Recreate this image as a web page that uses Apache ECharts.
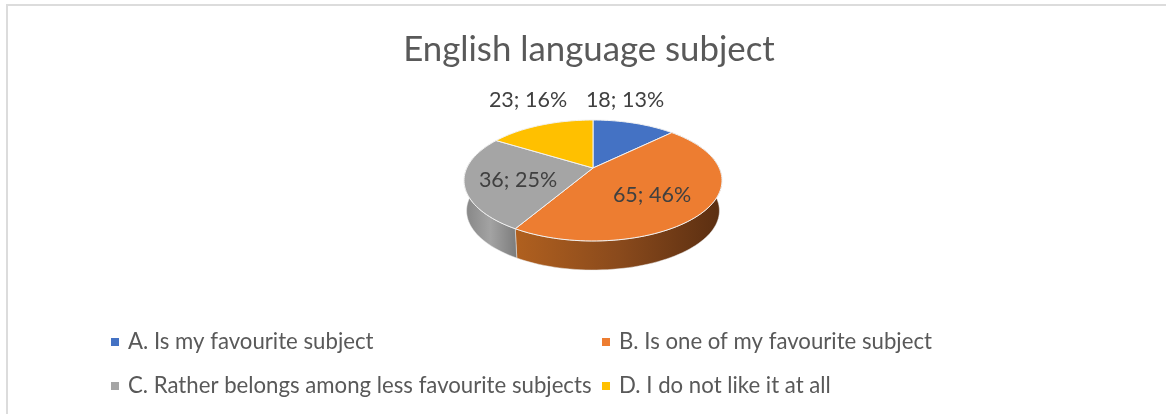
<!DOCTYPE html>
<html><head><meta charset="utf-8">
<style>html,body{margin:0;padding:0;background:#fff}#c{width:1166px;height:414px}</style>
<script src="https://cdn.jsdelivr.net/npm/echarts@6/dist/echarts.min.js"></script>
</head><body><div id="c"></div>
<script>
const categories = ['A. Is my favourite subject','B. Is one of my favourite subject','C. Rather belongs among less favourite subjects','D. I do not like it at all'];
const values = [18,65,36,23];
const colors = ['#4472C4','#ED7D31','#A5A5A5','#FFC000'];
const sideStops = [null,['#B0601F','#8A4A1C','#5A2E11'],['#858585','#A3A3A3','#7C7C7C'],null];
const labelAnchors = [[625,100],[652,195],[518,180],[528,100]];
const titleText = 'English language subject';
const FONT = 'Lato, "Open Sans", sans-serif';
const TEXT = '#595959';

const total = values.reduce((a,b)=>a+b,0);
// perspective disc: apex, radii and perspective factor
const P = {cx:593, cy:168, A:126.2, B:57.9, p:0.2066, depthScale:0.98, depthOffset:30.5};
function rim(deg, bottom){
  const t = deg*Math.PI/180, u=Math.sin(t), v=Math.cos(t), w=1+P.p*v;
  let X=P.A*u/w, Y=-P.B*v/w;
  if(bottom){X*=P.depthScale;Y=Y*P.depthScale+P.depthOffset;}
  return [P.cx+X,P.cy+Y];
}
function arc(a0,a1,bottom){
  const n=Math.max(2,Math.ceil((a1-a0)/2)),o=[];
  for(let i=0;i<=n;i++)o.push(rim(a0+(a1-a0)*i/n,bottom));
  return o;
}
let cum=0;
const ranges=values.map(v=>{const s=cum;cum+=v;return [s/total*360,cum/total*360];});

const series = categories.map((name,i)=>({
  type:'custom',name,coordinateSystem:'none',
  itemStyle:{color:colors[i]},
  silent:true,animation:false,
  data:[values[i]],
  renderItem(){
    const [a0,a1]=ranges[i];
    const top=arc(a0,a1,false);
    const children=[];
    if(sideStops[i]){
      const pts=top.concat(arc(a0,a1,true).reverse());
      const xs=pts.filter(p=>p[1]>P.cy).map(p=>p[0]);
      const st=sideStops[i];
      children.push({type:'polygon',z2:1,shape:{points:pts},
        style:{stroke:'#e8e8e8',lineWidth:0.5,fill:{type:'linear',global:true,
          x:Math.min(...xs),y:0,x2:Math.max(...xs),y2:0,
          colorStops:[{offset:0,color:st[0]},{offset:.5,color:st[1]},{offset:1,color:st[2]}]}}});
    }
    children.push({type:'polygon',z2:2,shape:{points:[[P.cx,P.cy]].concat(top)},
      style:{fill:colors[i],stroke:'#f2f2f2',lineWidth:1,lineJoin:'round'}});
    children.push({type:'text',z2:3,x:labelAnchors[i][0],y:labelAnchors[i][1],
      style:{text:values[i]+'; '+Math.round(values[i]/total*100)+'%',font:'21.5px '+FONT,fill:'#404040',align:'center',verticalAlign:'middle'}});
    return {type:'group',children};
  }
}));

const legendBase={orient:'vertical',icon:'rect',itemWidth:8,itemHeight:8,itemGap:22,selectedMode:false,
  textStyle:{fontFamily:FONT,fontSize:22.2,color:TEXT,padding:[0,0,0,4]}};
const chart=echarts.init(document.getElementById('c'),null,{renderer:'canvas'});
chart.setOption({
  animation:false,
  backgroundColor:'#fff',
  color:colors,
  title:{text:titleText,left:584,top:27,textAlign:'center',textStyle:{fontFamily:FONT,fontWeight:'normal',fontSize:34.8,color:TEXT}},
  legend:[
    Object.assign({},legendBase,{left:106,top:326,data:[categories[0],categories[2]]}),
    Object.assign({},legendBase,{left:597,top:326,data:[categories[1],categories[3]]})
  ],
  graphic:[{type:'polyline',silent:true,shape:{points:[[7,414],[7,5],[1166,5]]},style:{stroke:'#dcdcdc',lineWidth:2,fill:null}}],
  series
});
</script></body></html>
